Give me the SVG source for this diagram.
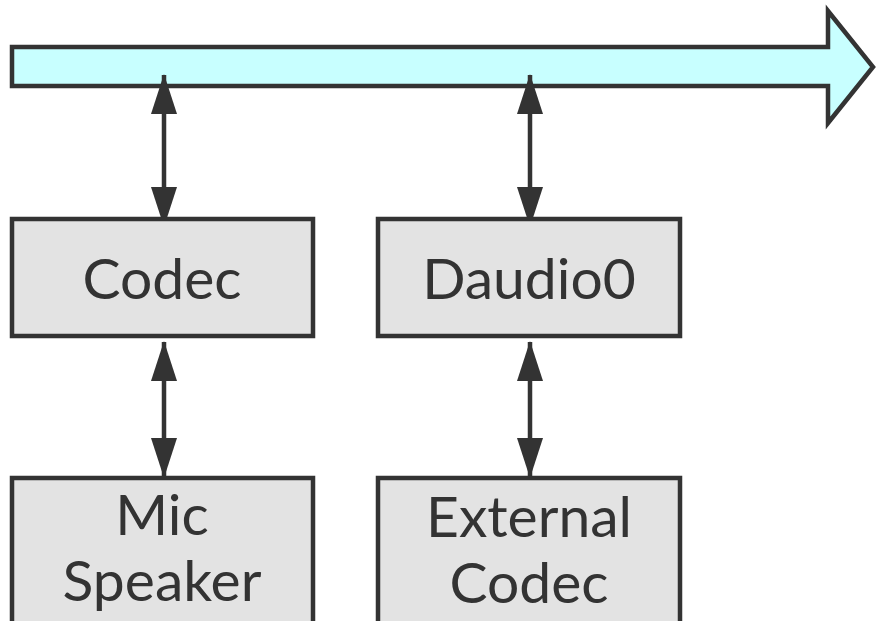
<svg xmlns="http://www.w3.org/2000/svg" width="877" height="621" viewBox="0 0 877 621">
<defs>
<style>
.box{fill:#e3e3e3;stroke:#333;stroke-width:4.5}
.lbl{font-family:Lato,"Open Sans","DejaVu Sans",sans-serif;font-size:57px;fill:#333;text-anchor:middle}
.conn{stroke:#333;stroke-width:4.5;fill:none;marker-start:url(#ah);marker-end:url(#ah)}
</style>
<marker id="ah" viewBox="0 0 40 26" refX="39" refY="13" markerWidth="40" markerHeight="26" markerUnits="userSpaceOnUse" orient="auto-start-reverse">
<path d="M0,0 L40,13 L0,26 Z" fill="#333"/>
</marker>
</defs>
<rect width="877" height="621" fill="#fff"/>
<g id="bus">
<path d="M12,47 H828 V11 L873,67 L828,123 V86 H12 Z" fill="#c8ffff" stroke="#333" stroke-width="4.5" stroke-linejoin="miter"/>
</g>
<g id="connectors">
<line class="conn" x1="164" y1="75" x2="164" y2="226"/>
<line class="conn" x1="530" y1="75" x2="530" y2="226"/>
<line class="conn" x1="164" y1="342" x2="164" y2="477"/>
<line class="conn" x1="530" y1="342" x2="530" y2="477"/>
</g>
<g id="codec">
<rect class="box" x="12" y="219" width="301" height="117"/>
<text class="lbl" x="162" y="299">Codec</text>
</g>
<g id="daudio0">
<rect class="box" x="378" y="219" width="302" height="117"/>
<text class="lbl" x="529" y="299">Daudio0</text>
</g>
<g id="mic-speaker">
<rect class="box" x="12" y="478" width="301" height="160"/>
<text class="lbl" x="162" y="535">Mic</text>
<text class="lbl" x="162" y="601">Speaker</text>
</g>
<g id="external-codec">
<rect class="box" x="378" y="478" width="302" height="160"/>
<text class="lbl" x="529" y="537">External</text>
<text class="lbl" x="529" y="603">Codec</text>
</g>
</svg>
